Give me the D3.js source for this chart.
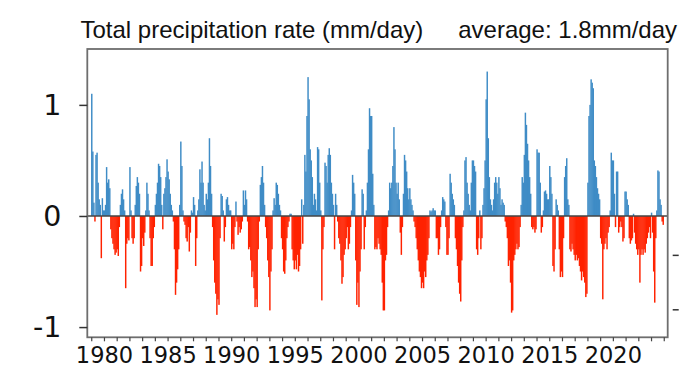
<!DOCTYPE html>
<html>
<head>
<meta charset="utf-8">
<script src="https://cdn.jsdelivr.net/npm/d3@7"></script>
<style>
  html, body { margin: 0; padding: 0; background: #fff; }
  svg { display: block; }
</style>
</head>
<body>
<svg id="chart" width="680" height="380"></svg>
<script>
// ---- data (monthly anomaly of total precipitation rate, mm/day) ----
const startYear = 1979;
const titleLeft = "Total precipitation rate (mm/day)";
const titleRight = "average: 1.8mm/day";
const yTickValues = [-1, 0, 1];
const xLabelYears = [1980, 1985, 1990, 1995, 2000, 2005, 2010, 2015, 2020];
const xMinorYears = d3.range(1979, 2025);
const rightTickValues = [-0.35, -0.84];

const anomalies1979_1990 = [
  1.1, 0.58, 0.12, -0.05, 0.55, 0.57, 0.3, 0.15, 0.1, -0.38, 0.16, 0.05,
  0.05, 0.1, 0.44, 0.3, 0.33, 0.25, -0.12, -0.2, -0.25, -0.3, -0.35, -0.33,
  -0.3, -0.36, -0.1, 0.1, 0.2, 0.24, 0.15, 0.05, -0.65, -0.25, -0.2, -0.22,
  0.44, 0.05, -0.2, -0.25, -0.2, 0.1, 0.27, 0.35, 0.3, 0.2, -0.5, -0.45,
  -0.2, -0.27, -0.15, 0.05, 0.3, 0.2, 0.05, -0.2, -0.45, -0.45, -0.2, -0.1,
  0.1, 0.2, 0.3, 0.47, 0.45, 0.35, 0.1, -0.12, 0.2, 0.25, 0.35, 0.51,
  0.4, 0.33, 0.2, 0.1, 0.05, -0.05, -0.3, -0.71, -0.6, -0.48, -0.3, 0.1,
  0.67, 0.45, 0.05, -0.05, -0.08, -0.2, -0.23, -0.1, -0.32, -0.15, 0.05, 0.03,
  0.17, 0.1, -0.45, -0.2, 0.05, 0.15, 0.42, 0.3, 0.49, 0.3, 0.1, 0.05,
  0.2, 0.15, 0.3, 0.7, 0.45, 0.2, -0.1, -0.4, -0.6, -0.7, -0.89, -0.75,
  -0.8, -0.2, 0.2, 0.18, 0.05, -0.23, -0.1, 0.15, 0.17, 0.1, 0.05, 0.05,
  -0.3, -0.25, -0.3, -0.1, 0.13, -0.05, -0.17, -0.1, -0.15, -0.12, -0.05, 0.23
];
const anomalies1991_2002 = [
  0.1, 0.23, 0.15, -0.05, -0.3, -0.28, -0.4, -0.55, -0.5, -0.65, -0.82, -0.75,
  -0.82, -0.3, -0.05, 0.28, 0.35, 0.45, 0.3, 0.1, -0.1, -0.2, -0.4, -0.55,
  -0.85, -0.5, -0.3, 0.05, 0.16, 0.1, 0.3, 0.28, 0.2, 0.1, 0.05, -0.2,
  -0.3, -0.5, -0.52, -0.4, -0.2, -0.1, -0.05, 0.02, 0.02, -0.3, -0.4, -0.48,
  -0.4, -0.48, -0.35, -0.5, -0.45, -0.3, 0.15, -0.25, 0.1, 0.55, 0.4, 0.9,
  1.25, 1.05, 0.6, 0.5, 0.35, 0.1, 0.2, 0.15, 0.05, 0.62, 0.6, 0.3,
  0.05, -0.76, -0.3, -0.1, 0.48, 0.45, 0.3, 0.55, 0.61, 0.55, 0.3, 0.2,
  0.1, -0.3, 0.2, 0.1, -0.05, -0.2, -0.25, -0.4, -0.61, -0.55, -0.35, -0.3,
  -0.2, -0.1, -0.3, -0.25, -0.1, 0.05, 0.37, 0.3, 0.2, -0.4, -0.8, -0.6,
  -0.82, -0.5, -0.3, 0.24, 0.2, -0.3, -0.1, 0.05, 0.3, 0.6, 0.97, 0.9,
  0.9, 0.38, 0.1, -0.3, -0.28, -0.3, -0.2, -0.25, -0.3, -0.35, -0.6, -0.85,
  -0.85, -0.4, -0.35, -0.1, 0.05, 0.3, 0.25, 0.3, 0.45, 0.8, 0.6, 0.3
];
const anomalies2003_2013 = [
  0.2, 0.3, 0.15, -0.15, -0.35, -0.1, 0.2, 0.55, 0.5, 0.4, 0.25, 0.15,
  0.25, 0.15, 0.1, 0.05, -0.05, -0.1, -0.2, -0.3, -0.4, -0.5, -0.55, -0.65,
  -0.6, -0.65, -0.5, -0.55, -0.4, -0.35, -0.2, 0.05, 0.04, 0.05, 0.07, 0.05,
  0.05, -0.2, -0.2, -0.35, -0.3, -0.1, 0.05, 0.17, 0.15, 0.13, -0.1, -0.35,
  -0.35, -0.2, 0.38, 0.3, 0.2, 0.15, 0.1, -0.2, -0.3, -0.45, -0.6, -0.7,
  -0.77, -0.4, -0.1, 0.05, 0.5, 0.53, 0.3, 0.2, 0.1, 0.05, 0.3, 0.5,
  0.5, 0.45, 0.4, -0.3, -0.35, -0.2, 0.05, -0.3, -0.2, 0.1, 0.25, 0.5,
  1.05, 1.3, 0.7, 0.35, 0.15, 0.1, 0.05, 0.15, 0.3, 0.35, 0.3, 0.2,
  0.35, 0.25, 0.1, 0.15, 0.12, 0.1, -0.05, -0.1, -0.2, -0.45, -0.4, -0.6,
  -0.87, -0.85, -0.4, -0.35, -0.3, -0.25, -0.3, -0.28, -0.1, 0.1, 0.35, 0.3,
  0.55, 0.93, 0.82, 0.65, 0.5, 0.35, 0.2, -0.1, -0.12, -0.1, -0.15, -0.12
];
const anomalies2014_2023 = [
  0.6, 0.57, 0.57, 0.3, -0.15, -0.1, 0.05, 0.22, 0.23, 0.2, 0.15, 0.15,
  0.45, 0.35, 0.2, -0.45, -0.5, -0.3, 0.15, 0.1, 0.05, -0.3, -0.55, -0.5,
  -0.55, -0.2, 0.35, 0.45, 0.52, 0.15, 0.1, -0.3, -0.32, -0.25, -0.3, -0.35,
  -0.4, -0.35, -0.4, -0.38, -0.45, -0.5, -0.58, -0.5, -0.55, -0.6, -0.73, -0.7,
  0.3, 0.9, 1.0, 1.23, 1.2, 1.15, 0.5, 0.45, 0.35, 0.25, 0.2, 0.15,
  -0.2, -0.25, -0.75, -0.3, -0.25, -0.2, -0.3, -0.15, -0.1, 0.05, 0.57, 0.5,
  0.5, 0.2, -0.1, 0.4, 0.4, -0.15, -0.1, -0.05, -0.1, -0.23, -0.2, 0.22,
  0.22, 0.15, 0.1, -0.2, -0.25, -0.22, -0.2, 0.02, -0.15, -0.25, -0.3, -0.35,
  -0.3, -0.6, -0.35, -0.3, -0.35, -0.3, -0.33, -0.25, -0.2, -0.15, -0.1, -0.2,
  0.03, -0.15, -0.5, -0.78, -0.2, 0.05, 0.41, 0.4, 0.15, 0.1, -0.05, -0.08
];

// ---- build ----
const values = [].concat(anomalies1979_1990, anomalies1991_2002, anomalies2003_2013, anomalies2014_2023);
const data = values.map((v, i) => ({ t: startYear + i / 12, v }));

const W = 680, H = 380;
const plot = { left: 87.3, right: 667.7, top: 49, bottom: 337.3 };

const x = d3.scaleLinear().domain([1978.69, 2024.31]).range([plot.left, plot.right]);
const y = d3.scaleLinear().domain([-1.092, 1.503]).range([plot.bottom, plot.top]);

const svg = d3.select("#chart");
svg.append("rect").attr("width", W).attr("height", H).attr("fill", "#fff");

const blue = "#3f8cc6";
const red = "#ff2200";
const barW = x(startYear + 1 / 12) - x(startYear);

svg.append("g").selectAll("rect").data(data).join("rect")
  .attr("x", d => x(d.t) - 0.2)
  .attr("width", barW + 0.4)
  .attr("y", d => y(Math.max(0, d.v)))
  .attr("height", d => Math.abs(y(d.v) - y(0)))
  .attr("fill", d => d.v >= 0 ? blue : red);

// zero line
svg.append("line")
  .attr("x1", plot.left).attr("x2", plot.right)
  .attr("y1", y(0)).attr("y2", y(0))
  .attr("stroke", "#444").attr("stroke-width", 1.5);

// frame
svg.append("rect")
  .attr("x", plot.left).attr("y", plot.top)
  .attr("width", plot.right - plot.left).attr("height", plot.bottom - plot.top)
  .attr("fill", "none").attr("stroke", "#6e6e6e").attr("stroke-width", 1.8);

// y axis
const yAxis = svg.append("g").attr("transform", `translate(${plot.left},0)`)
  .call(d3.axisLeft(y).tickValues(yTickValues).tickSize(8).tickPadding(18).tickFormat(d => String(d)));
yAxis.select(".domain").remove();
yAxis.selectAll("line").attr("stroke", "#333").attr("stroke-width", 1.5);
yAxis.selectAll("text").attr("font-family", "DejaVu Sans").attr("font-size", 28.5).attr("fill", "#111");

// x axis: minor year ticks
const xTicks = svg.append("g").attr("transform", `translate(0,${plot.bottom})`)
  .call(d3.axisBottom(x).tickValues(xMinorYears).tickSize(4).tickFormat(""));
xTicks.select(".domain").remove();
xTicks.selectAll("line").attr("stroke", "#444").attr("stroke-width", 1.2);

// x axis labels
const xLab = svg.append("g").attr("transform", `translate(0,${plot.bottom})`)
  .call(d3.axisBottom(x).tickValues(xLabelYears).tickSize(0).tickPadding(10).tickFormat(d => String(d)));
xLab.select(".domain").remove();
xLab.selectAll("text").attr("font-family", "DejaVu Sans").attr("font-size", 22.5).attr("fill", "#111");

// right stray ticks
const rAxis = svg.append("g").attr("transform", `translate(${plot.right + 5},0)`)
  .call(d3.axisRight(y).tickValues(rightTickValues).tickSize(6).tickFormat(""));
rAxis.select(".domain").remove();
rAxis.selectAll("line").attr("stroke", "#333").attr("stroke-width", 1.5);

// titles
svg.append("text").attr("x", 80.5).attr("y", 37.5)
  .attr("font-family", "Liberation Sans, Arial, sans-serif").attr("font-size", 24).attr("fill", "#111")
  .text(titleLeft);
svg.append("text").attr("x", 677).attr("y", 37.5).attr("text-anchor", "end")
  .attr("font-family", "Liberation Sans, Arial, sans-serif").attr("font-size", 24).attr("fill", "#111")
  .text(titleRight);
</script>
</body>
</html>
